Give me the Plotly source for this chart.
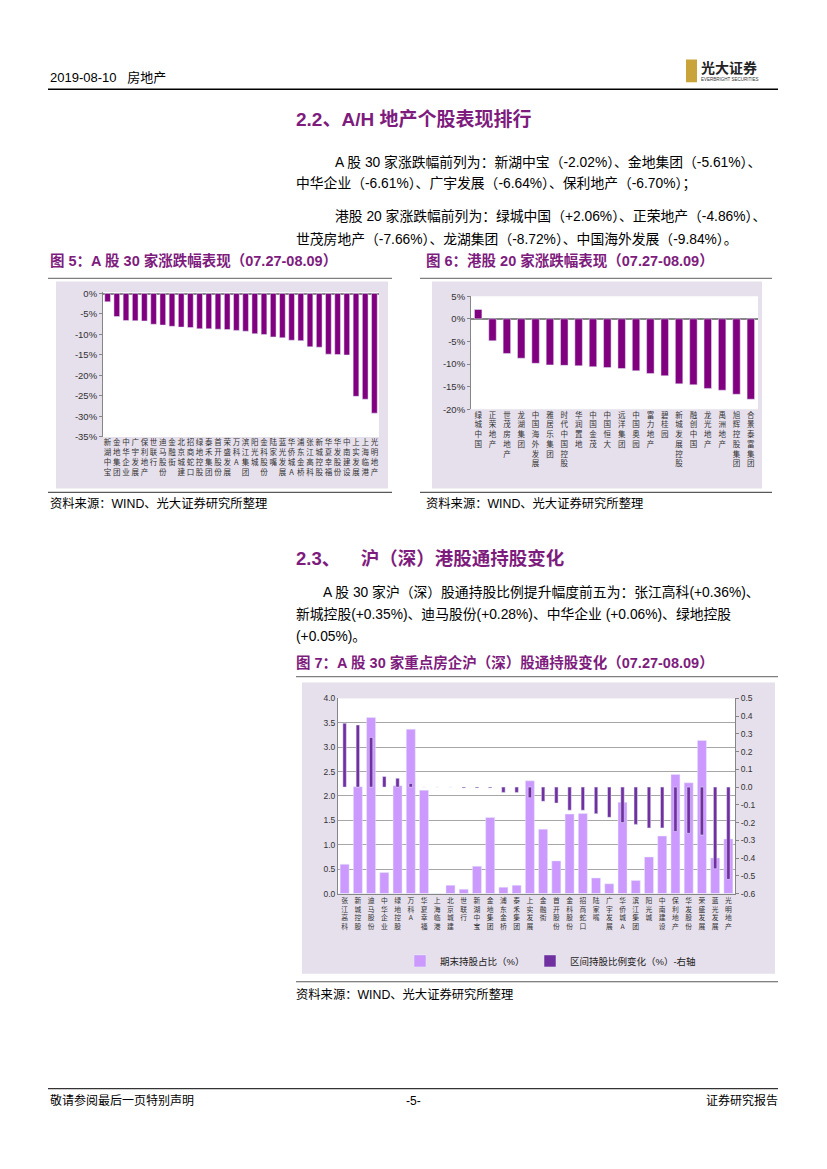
import plotly.graph_objects as go

# 图5: A股30家涨跌幅 (%)
a_names = ["新湖中宝", "金地集团", "中华企业", "广宇发展", "保利地产", "世联行", "迪马股份",
           "金融街", "北京城建", "招商蛇口", "绿地控股", "泰禾集团", "首开股份", "荣盛发展",
           "万科A", "滨江集团", "阳光城", "金科股份", "陆家嘴", "蓝光发展", "华侨城A",
           "浦东金桥", "张江高科", "新城控股", "华夏幸福", "华发股份", "中南建设",
           "上实发展", "上海临港", "光明地产"]
a_chg = [-2.02, -5.61, -6.61, -6.64, -6.70, -7.5, -7.7, -8.0, -8.2, -8.3, -8.6, -8.6,
         -8.7, -8.8, -9.0, -9.2, -9.8, -10.0, -10.6, -10.8, -11.4, -11.5, -13.0, -13.1,
         -14.8, -14.9, -15.0, -25.1, -25.8, -29.2]

# 图6: 港股20家涨跌幅 (%)
h_names = ["绿城中国", "正荣地产", "世茂房地产", "龙湖集团", "中国海外发展", "雅居乐集团",
           "时代中国控股", "华润置地", "中国金茂", "中国恒大", "远洋集团", "中国奥园",
           "富力地产", "碧桂园", "新城发展控股", "融创中国", "龙光地产", "禹洲地产",
           "旭辉控股集团", "合景泰富集团"]
h_chg = [2.06, -4.86, -7.66, -8.72, -9.84, -10.2, -10.3, -10.4, -10.6, -10.8, -11.0,
         -11.5, -12.1, -12.6, -14.4, -14.6, -15.4, -15.8, -16.7, -17.8]

# 图7: 沪(深)港股通持股
c_names = ["张江高科", "新城控股", "迪马股份", "中华企业", "绿地控股", "万科A", "华夏幸福",
           "上海临港", "北京城建", "世联行", "新湖中宝", "金地集团", "浦东金桥", "泰禾集团",
           "上实发展", "金融街", "首开股份", "金科股份", "招商蛇口", "陆家嘴", "广宇发展",
           "华侨城A", "滨江集团", "阳光城", "中南建设", "保利地产", "华发股份", "荣盛发展",
           "蓝光发展", "光明地产"]
c_hold = [0.60, 2.19, 3.61, 0.43, 2.21, 3.37, 2.12, 0.0, 0.17, 0.09, 0.56, 1.56, 0.13,
          0.17, 2.31, 1.32, 0.67, 1.63, 1.64, 0.32, 0.20, 1.87, 0.27, 0.75, 1.18, 2.44,
          2.27, 3.14, 0.73, 1.12]
c_delta = [0.36, 0.35, 0.28, 0.06, 0.05, 0.02, 0.0, 0.0, 0.0, -0.005, -0.005, -0.005,
           -0.03, -0.03, -0.06, -0.08, -0.09, -0.13, -0.13, -0.15, -0.17, -0.20, -0.21,
           -0.23, -0.23, -0.25, -0.26, -0.27, -0.46, -0.52]

a_ticks = [0, -5, -10, -15, -20, -25, -30, -35]
a_ticktext = ["0%", "-5%", "-10%", "-15%", "-20%", "-25%", "-30%", "-35%"]
h_ticks = [5, 0, -5, -10, -15, -20]
h_ticktext = ["5%", "0%", "-5%", "-10%", "-15%", "-20%"]
left_ticks = [0, 0.5, 1, 1.5, 2, 2.5, 3, 3.5, 4]
left_ticktext = ["0.0", "0.5", "1.0", "1.5", "2.0", "2.5", "3.0", "3.5", "4.0"]
right_ticks = [0.5, 0.4, 0.3, 0.2, 0.1, 0, -0.1, -0.2, -0.3, -0.4, -0.5, -0.6]
right_ticktext = ["0.5", "0.4", "0.3", "0.2", "0.1", "0.0", "-0.1", "-0.2", "-0.3",
                  "-0.4", "-0.5", "-0.6"]

W, H = 827, 1169
PURPLE = "#7E1C7E"
LAV = "#E6E0EC"
CJK = "Noto Sans CJK SC"
MIX = "Liberation Sans, Noto Sans CJK SC"


def fx(x):
    return x / W


def fy(y):
    return 1 - y / H


def vert(s):
    return "<br>".join(list(s))


fig = go.Figure()

fig.add_trace(go.Bar(x=a_names, y=a_chg, marker_color="#800080", width=0.62,
                     xaxis="x", yaxis="y", showlegend=False))
fig.add_trace(go.Bar(x=h_names, y=h_chg, marker_color="#800080", width=0.52,
                     xaxis="x2", yaxis="y2", showlegend=False))
fig.add_trace(go.Bar(x=c_names, y=c_hold, marker_color="#CC99FF", width=0.68,
                     xaxis="x3", yaxis="y3", name="期末持股占比（%）", legend="legend"))
fig.add_trace(go.Bar(x=c_names, y=c_delta, marker_color="#7030A0", width=0.26,
                     xaxis="x3", yaxis="y4", name="区间持股比例变化（%）-右轴",
                     legend="legend2"))

tickfont = dict(family=MIX, size=9.5, color="#333333")
axis_line = dict(showline=True, linecolor="#868686", linewidth=1)
legend_style = dict(orientation="h", y=fy(964), xanchor="left", yanchor="middle",
                    font=dict(family=MIX, size=9.5, color="#222222"),
                    bgcolor="rgba(0,0,0,0)", itemclick=False, itemdoubleclick=False)

fig.update_layout(
    width=W, height=H, margin=dict(l=0, r=0, t=0, b=0),
    paper_bgcolor="white", plot_bgcolor="white",
    barmode="overlay", font=dict(family=CJK, color="#000000"),
    xaxis=dict(domain=[fx(103), fx(379)], anchor="y", type="category",
               tickvals=a_names, ticktext=[vert(n) for n in a_names], tickangle=0,
               tickfont=dict(family=CJK, size=7.5, color="#333333"),
               showline=False, ticks=""),
    yaxis=dict(domain=[fy(435), fy(289)], anchor="x", range=[-35, 0.3],
               tickvals=a_ticks, ticktext=a_ticktext, tickfont=tickfont,
               showgrid=False, zeroline=True, zerolinecolor="#868686",
               ticks="outside", ticklen=3, tickcolor="#868686", **axis_line),
    xaxis2=dict(domain=[fx(471), fx(758)], anchor="y2", type="category",
                tickvals=h_names, ticktext=[vert(n) for n in h_names], tickangle=0,
                tickfont=dict(family=CJK, size=7.5, color="#333333"),
                showline=False, ticks=""),
    yaxis2=dict(domain=[fy(407), fy(293)], anchor="x2", range=[-20, 5],
                tickvals=h_ticks, ticktext=h_ticktext, tickfont=tickfont,
                showgrid=False, zeroline=True, zerolinecolor="#868686",
                ticks="outside", ticklen=3, tickcolor="#868686", **axis_line),
    xaxis3=dict(domain=[fx(338), fx(735)], anchor="y3", type="category",
                tickvals=c_names, ticktext=[vert(n) for n in c_names], tickangle=0,
                tickfont=dict(family=CJK, size=6.8, color="#333333"),
                ticks="", **axis_line),
    yaxis3=dict(domain=[fy(896), fy(699)], anchor="x3", range=[0, 4],
                tickvals=left_ticks, ticktext=left_ticktext,
                tickfont=dict(family=MIX, size=8.5, color="#333333"),
                showgrid=True, gridcolor="#A6A6A6", gridwidth=1, zeroline=False,
                **axis_line),
    yaxis4=dict(overlaying="y3", side="right", anchor="x3", range=[-0.6, 0.5],
                tickvals=right_ticks, ticktext=right_ticktext,
                tickfont=dict(family=MIX, size=8.5, color="#333333"),
                showgrid=False, zeroline=False, ticks="outside", ticklen=3,
                tickcolor="#868686", **axis_line),
    legend=dict(x=fx(400), **legend_style),
    legend2=dict(x=fx(530), **legend_style),
)

shapes = []


def rect(x0, y0, x1, y1, color):
    shapes.append(dict(type="rect", xref="paper", yref="paper", x0=fx(x0), x1=fx(x1),
                       y0=fy(y1), y1=fy(y0), fillcolor=color, line=dict(width=0),
                       layer="below"))


def hline(x0, x1, y, color="#000000", w=1):
    shapes.append(dict(type="line", xref="paper", yref="paper", x0=fx(x0), x1=fx(x1),
                       y0=fy(y), y1=fy(y), line=dict(color=color, width=w)))


# chart boxes
rect(56, 278, 388, 487, LAV)
rect(432, 278, 762, 487, LAV)
rect(302, 683, 775, 977, LAV)
rect(103, 289, 379, 435, "white")
rect(471, 293, 758, 407, "white")
rect(338, 699, 735, 896, "white")
# gold logo mark
rect(686, 54, 697, 77, "#C9A43A")

hline(48, 778, 84, "#000000", 1.5)
hline(48, 392, 275, "#7F7F7F", 1.2)
hline(420, 772, 275, "#7F7F7F", 1.2)
hline(48, 392, 491, "#595959", 1.2)
hline(420, 772, 491, "#595959", 1.2)
hline(296, 778, 677, "#7F7F7F", 1.2)
hline(296, 778, 985, "#595959", 1.2)
hline(48, 778, 1093, "#000000", 1)

fig.update_layout(shapes=shapes)

ann = []


def text(x, y, s, size=13, color="#000000", anchor="left", bold=False, family=MIX):
    if bold:
        s = "<b>" + s + "</b>"
    ann.append(dict(xref="paper", yref="paper", x=fx(x), y=fy(y), text=s,
                    showarrow=False, xanchor=anchor, yanchor="middle", borderpad=0,
                    font=dict(family=family, size=size, color=color)))


text(49, 72, "2019-08-10&nbsp;&nbsp;&nbsp;房地产", 13)
text(700, 62, "光大证券", 14, "#222222", bold=True, family=CJK)
text(700, 74, "EVERBRIGHT SECURITIES", 4.5, "#333333")

text(295, 115, "2.2、A/H 地产个股表现排行", 19, PURPLE, bold=True)
text(334, 157, "A 股 30 家涨跌幅前列为：新湖中宝（-2.02%）、金地集团（-5.61%）、", 13.8)
text(295, 179, "中华企业（-6.61%）、广宇发展（-6.64%）、保利地产（-6.70%）；", 13.8)
text(334, 212, "港股 20 家涨跌幅前列为：绿城中国（+2.06%）、正荣地产（-4.86%）、", 13.8)
text(295, 235, "世茂房地产（-7.66%）、龙湖集团（-8.72%）、中国海外发展（-9.84%）。", 13.8)

text(49, 257, "图 5：A 股 30 家涨跌幅表现（07.27-08.09）", 14.5, PURPLE, bold=True)
text(425, 257, "图 6：港股 20 家涨跌幅表现（07.27-08.09）", 14.5, PURPLE, bold=True)
text(49, 502, "资料来源：WIND、光大证券研究所整理", 12.3)
text(425, 502, "资料来源：WIND、光大证券研究所整理", 12.3)

text(295, 558, "2.3、&nbsp;&nbsp;&nbsp;&nbsp;沪（深）港股通持股变化", 18.5, PURPLE, bold=True)
text(322, 592, "A 股 30 家沪（深）股通持股比例提升幅度前五为：张江高科(+0.36%)、", 13.8)
text(295, 614, "新城控股(+0.35%)、迪马股份(+0.28%)、中华企业 (+0.06%)、绿地控股", 13.8)
text(295, 636, "(+0.05%)。", 13.8)
text(295, 663, "图 7：A 股 30 家重点房企沪（深）股通持股变化（07.27-08.09）", 14.5, PURPLE,
     bold=True)
text(295, 998, "资料来源：WIND、光大证券研究所整理", 12.3)

text(49, 1105, "敬请参阅最后一页特别声明", 12)
text(413, 1105, "-5-", 12, anchor="center")
text(779, 1105, "证券研究报告", 12, anchor="right")

fig.update_layout(annotations=ann)

fig.write_html(
    "out.html",
    config={"displayModeBar": False},
    post_script=("document.documentElement.style.margin='0px';"
                 "document.body.style.margin='0px';"
                 "document.documentElement.style.overflow='hidden';"
                 "document.body.style.overflow='hidden';"),
)
